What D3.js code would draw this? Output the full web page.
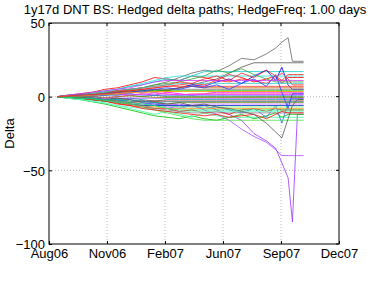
<!DOCTYPE html>
<html>
<head>
<meta charset="UTF-8">
<title>Hedged delta paths</title>
<script src="https://cdn.jsdelivr.net/npm/d3@7"></script>
<style>
  body { margin: 0; background: #fff; }
  text { font-family: "Liberation Sans", Arial, sans-serif; }
</style>
</head>
<body>
<script>
// days since start of x axis at which each path is sampled
const days = [13,30,50,70,90,110,130,150,170,190,210,230,250,270,290,310,330,350,365,375,385,392,400,410];

const tickDays = [0, 93.4, 186.8, 280.2, 373.6, 467];
const tickLabels = ["Aug06","Nov06","Feb07","Jun07","Sep07","Dec07"];
const yTicks = [-100, -50, 0, 50];

// delta paths (one row per path)
const paths = [
  [0,0.5,1,2,2.5,4,5,6,8,10,13,16,18,17,21,26,25,29,33,37,40,24,24,24],
  [0,-0.5,0,1,2,2,3,4,3,5,6,8,10,12,16,20,23,23,23,23,23,23,23,23],
  [0,-0.5,-1,-2,-3,-2,-4,-5,-4,-6,-5,-7,-6,-9,-12,-16,-25,-30,-35,-45,-55,-85,-12,-12],
  [0,-1,-1.5,-2,-3,-4,-5,-6,-5,-7,-8,-6,-9,-12,-16,-22,-27,-31,-36,-40,-40,-40,-40,-40],
  [0,1,2,3,5,6,8,10,13,12,11,14,13,11,15,13,10,12,14,9,13,13,13,13],
  [0,-1,-2,-3.5,-5,-7,-9,-11,-13,-14,-15,-13,-15,-16,-14,-12,-15,-13,-11,-14,-12,-12,-12,-12],
  [0,-1,-2,-3,-4.5,-6,-8,-10,-12,-10,-12,-14,-11,-13,-14,-14,-14,-14,-14,-14,-14,-14,-14,-14],
  [0,1,1.5,2.5,4,5,7,8,10,12,11,14,17,17,17,17,17,17,17,17,17,17,17,17],
  [0,0.5,1,2,1,3,4,3,5,4,6,8,7,10,12,9,14,18,11,20,8,5,5,5],
  [0,-0.5,-1,-2,-3,-4.5,-6,-7,-8,-8,-10,-9,-11,-10,-12,-9,-8,-10,-8,-9,-9,-9,-9,-9],
  [0,0.5,1,1.5,3,4,5,6,8,9,10,12,14,18,16,19,15,12,10,10,10,10,10,10],
  [0,0,1,0,-1,0,1,2,1,3,2,1,2,3,3,3,3,3,3,3,3,3,3,3],
  [0,0.5,0,1,2,1,3,4,5,4,6,7,6,6,6,6,6,6,6,6,6,6,6,6],
  [0,-0.5,0,-1,-2,-1,-3,-4,-3,-5,-4,-4,-4,-4,-4,-4,-4,-4,-4,-4,-4,-4,-4,-4],
  [0,-0.5,-1,-1,-2,-3,-2,-4,-5,-6,-7,-6,-8,-7,-9,-11,-8,-14,-6,-18,-4,-1,-1,-1],
  [0,0.5,1,2,2,3,2,4,3,2,1,2,2,2,2,2,2,2,2,2,2,2,2,2],
  [0,0,-1,-1,-2,-2,-1,-2,-3,-2,-2,-2,-2,-2,-2,-2,-2,-2,-2,-2,-2,-2,-2,-2],
  [0,0.5,1,2,3,4,5,6,7,8,10,9,8,11,10,12,11,9,13,16,12,8,8,8],
  [0,-0.5,-1,-1.5,-2,-3,-4,-3,-4,-5,-6,-5,-5,-5,-5,-5,-5,-5,-5,-5,-5,-5,-5,-5],
  [0,0,0.5,1,1,2,1,0,1,0,0,0,0,0,0,0,0,0,0,0,0,0,0,0],
  [0,-1,-1.5,-2,-3,-4,-5,-6,-7,-6,-7,-7,-7,-7,-7,-7,-7,-7,-7,-7,-7,-7,-7,-7],
  [0,0.5,1,1,2,3,4,5,4,5,5,5,5,5,5,5,5,5,5,5,5,5,5,5],
  [0,0,0.5,0,1,1,2,1,1,1,1,1,1,1,1,1,1,1,1,1,1,1,1,1],
  [0,-0.5,-1,-2,-2,-3,-4,-3,-3,-3,-3,-3,-3,-3,-3,-3,-3,-3,-3,-3,-3,-3,-3,-3],
  [0,0.5,1,2,3,4,5,6,7,8,9,9,9,9,9,9,9,9,9,9,9,9,9,9],
  [0,0,-0.5,-1,-1,-1,-1,-1,-1,-1,-1,-1,-1,-1,-1,-1,-1,-1,-1,-1,-1,-1,-1,-1],
  [0,0.5,1,2,3,3,4,4,4,4,4,4,4,4,4,4,4,4,4,4,4,4,4,4],
  [0,-0.5,-1,-2,-3,-4,-5,-6,-7,-8,-8,-8,-8,-8,-8,-8,-8,-8,-8,-8,-8,-8,-8,-8],
  [0,-1,-2,-3,-4,-6,-7,-8,-9,-10,-11,-10,-10,-10,-10,-10,-10,-10,-10,-10,-10,-10,-10,-10],
  [0,0.5,1,2,3,4,4,5,6,7,7,7,7,7,7,7,7,7,7,7,7,7,7,7],
  [0,-0.5,-1,-2,-3,-4,-5,-6,-6,-6,-6,-6,-6,-6,-6,-6,-6,-6,-6,-6,-6,-6,-6,-6],
  [0,-0.5,-1,-2,-3,-4,-5,-6,-8,-9,-10,-11,-11,-11,-11,-11,-11,-11,-11,-11,-11,-11,-11,-11],
  [0,0.5,1,1,2,2,1,1.5,2.5,1.5,1.5,1.5,1.5,1.5,1.5,1.5,1.5,1.5,1.5,1.5,1.5,1.5,1.5,1.5],
  [0,0,-0.5,0,-0.5,0,0.5,0,-0.5,-0.5,-0.5,-0.5,-0.5,-0.5,-0.5,-0.5,-0.5,-0.5,-0.5,-0.5,-0.5,-0.5,-0.5,-0.5],
  [0,-0.5,-1,-2,-3,-4,-5,-7,-9,-11,-13,-15,-16,-16,-16,-16,-16,-16,-16,-16,-16,-16,-16,-16],
  [0,0.5,1,2,3,5,7,9,11,13,14,14,14,14,14,14,14,14,14,14,14,14,14,14],
  [0,-0.5,-1,-2,-3,-5,-6,-8,-9,-10,-11,-12,-13,-12,-14,-13,-12,-15,-12,-10,-11,-11,-11,-11],
  [0,0,-0.5,-1,-2,-1,-2,-3,-4,-5,-4,-6,-5,-7,-8,-10,-12,-18,-24,-28,-15,-6,-2,-2],
  [0,0.5,1,1,2,3,3,4,5,6,5,7,6,8,5,9,12,7,15,3,-8,2,2,2],
  [0,-0.5,-1,-1,-2,-2,-3,-3,-4,-3.5,-3.5,-3.5,-3.5,-3.5,-3.5,-3.5,-3.5,-3.5,-3.5,-3.5,-3.5,-3.5,-3.5,-3.5],
  [0,1,2,3,4,5,6,8,10,11,11,11,11,11,11,11,11,11,11,11,11,11,11,11],
  [0,-0.5,-1,-1.5,-2.5,-3,-4,-5,-6,-8,-9,-9,-9,-9,-9,-9,-9,-9,-9,-9,-9,-9,-9,-9],
  [0,0.5,0.5,1,1.5,2,3,2.5,3.5,3.5,3.5,3.5,3.5,3.5,3.5,3.5,3.5,3.5,3.5,3.5,3.5,3.5,3.5,3.5],
  [0,0.5,1,1.5,2,3,4,5,6,7,8,9,12,14,11,16,13,18,14,11,15,15,15,15]
];

const colors = ["#666666","#555555","#9933ff","#a64dff","#ff0000","#00bb00","#33ff99","#00cccc",
  "#0000ff","#ff0000","#33aa33","#ff00ff","#cc6600","#999900","#3366ff","#ff6699","#009999",
  "#ff2222","#cc66ff","#339933","#66ff66","#777777","#3366ff","#dd0000","#33cccc","#9933ff",
  "#00cc00","#ff9933","#66ffcc","#ff3333","#0033cc","#888888","#ff33ff","#888800","#44dd44",
  "#22dddd","#ff1111","#555555","#2244ff","#11aaaa","#cc33ff","#00ee66","#ff9900","#ee2222"];

const width = 374, height = 281;
const mLeft = 49, mRight = 339, mTop = 23, mBottom = 244;

const svg = d3.select("body").append("svg")
    .attr("width", width)
    .attr("height", height);

const x = d3.scaleLinear().domain([0, 467]).range([mLeft, mRight]);
const y = d3.scaleLinear().domain([-100, 50]).range([mBottom, mTop]);

// dotted grid
svg.append("g").selectAll("line")
    .data(tickDays.slice(1, -1))
    .enter().append("line")
    .attr("x1", d => x(d)).attr("x2", d => x(d))
    .attr("y1", mTop).attr("y2", mBottom)
    .style("stroke", "#bbb").style("stroke-dasharray", "1,2");
svg.append("g").selectAll("line")
    .data(yTicks.slice(1, -1))
    .enter().append("line")
    .attr("x1", mLeft).attr("x2", mRight)
    .attr("y1", d => y(d)).attr("y2", d => y(d))
    .style("stroke", "#bbb").style("stroke-dasharray", "1,2");

// paths
const line = d3.line()
    .x((d, i) => x(days[i]))
    .y(d => y(d));

svg.append("g").selectAll("path")
    .data(paths)
    .enter().append("path")
    .attr("d", line)
    .style("fill", "none")
    .style("stroke", (d, i) => colors[i % colors.length])
    .style("stroke-width", 0.8);

// axes
const xAxis = d3.axisBottom(x)
    .tickValues(tickDays)
    .tickFormat((d, i) => tickLabels[i])
    .tickSizeInner(-3).tickSizeOuter(0).tickPadding(5);
const gx = svg.append("g").attr("transform", `translate(0,${mBottom})`).call(xAxis);

const yAxis = d3.axisLeft(y)
    .tickValues(yTicks)
    .tickSizeInner(-3).tickSizeOuter(0).tickPadding(4);
const gy = svg.append("g").attr("transform", `translate(${mLeft},0)`).call(yAxis);

[gx, gy].forEach(g => {
  g.selectAll("text").style("font-size", "13px").style("fill", "#000");
  g.select(".domain").remove();
  g.selectAll(".tick line").style("stroke", "#000");
});
gy.selectAll("text").attr("dy", "0.36em");

// box
svg.append("rect")
    .attr("x", mLeft).attr("y", mTop)
    .attr("width", mRight - mLeft).attr("height", mBottom - mTop)
    .style("fill", "none").style("stroke", "#000").style("stroke-width", 1);

// top / right ticks
svg.append("g").selectAll("line").data(tickDays).enter().append("line")
    .attr("x1", d => x(d)).attr("x2", d => x(d))
    .attr("y1", mTop).attr("y2", mTop + 3).style("stroke", "#000");
svg.append("g").selectAll("line").data(yTicks).enter().append("line")
    .attr("x1", mRight).attr("x2", mRight - 3)
    .attr("y1", d => y(d)).attr("y2", d => y(d)).style("stroke", "#000");

svg.append("text")
    .attr("x", 195).attr("y", 14)
    .attr("text-anchor", "middle")
    .style("font-size", "13px")
    .text("1y17d DNT BS: Hedged delta paths; HedgeFreq: 1.00 days");

svg.append("text")
    .attr("transform", `translate(14,${(mTop + mBottom) / 2}) rotate(-90)`)
    .attr("text-anchor", "middle")
    .style("font-size", "13px")
    .text("Delta");
</script>
</body>
</html>
